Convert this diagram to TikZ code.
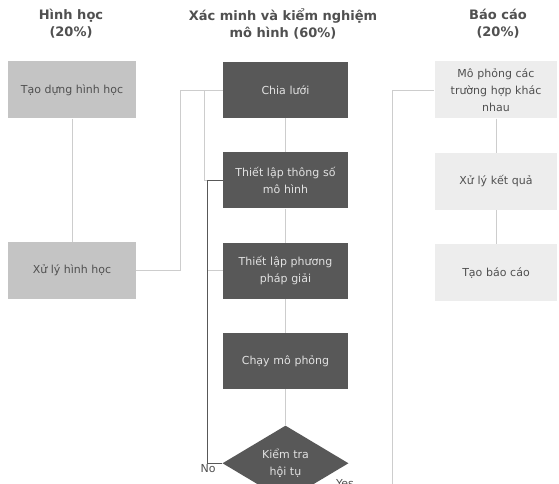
\documentclass[tikz,border=0pt]{standalone}
\usepackage{fontspec}
\setmainfont{DejaVu Sans}
\definecolor{geo_fill}{RGB}{196, 196, 196}
\definecolor{mid_fill}{RGB}{88, 88, 88}
\definecolor{rep_fill}{RGB}{237, 237, 237}
\definecolor{txt_dark}{RGB}{80, 80, 80}
\definecolor{txt_light}{RGB}{225, 225, 225}
\definecolor{line_light}{RGB}{205, 205, 205}
\usetikzlibrary{positioning, shapes.geometric}

\begin{document}
\begin{tikzpicture}[x=1pt, y=-1pt,
        node distance=34pt,
        head/.style={font=\fontsize{13}{17}\selectfont\bfseries, text=txt_dark, align=center},
        geobox/.style={fill=geo_fill, text=txt_dark, minimum width=128pt,
                    minimum height=57pt, font=\fontsize{11}{17}\selectfont, align=center},
        midbox/.style={fill=mid_fill, text=txt_light, minimum width=125pt,
                    minimum height=56pt, text width=118pt,
                    font=\fontsize{11}{17}\selectfont, align=center},
        repbox/.style={fill=rep_fill, text=txt_dark, minimum width=122pt,
                    minimum height=57pt, text width=116pt,
                    font=\fontsize{11}{17}\selectfont, align=center},
        dec/.style={fill=mid_fill, text=txt_light, diamond, inner sep=0pt,
                    minimum width=126pt, minimum height=58pt,
                    font=\fontsize{11}{17}\selectfont, align=center},
        link/.style={line_light, line width=0.8pt},
        back/.style={mid_fill, line width=0.8pt},
        lbl/.style={text=txt_dark, font=\fontsize{11}{13}\selectfont},
      ]
        \clip (0,0) rectangle (559,484);
        \fill[white] (0,0) rectangle (559,484);
        % column headings
        \node[head] (hgeo) at (71,24)  {Hình học\\(20\%)};
        \node[head] (hmid) at (283,24) {Xác minh và kiểm nghiệm\\mô hình (60\%)};
        \node[head] (hrep) at (498,24) {Báo cáo\\(20\%)};
        % geometry
        \node[geobox] (taodung) at (72,90) {Tạo dựng hình học};
        \node[geobox, below=123pt of taodung] (xulyhh) {Xử lý hình học};
        % model
        \node[midbox] (chialuoi) at (285.5,90) {Chia lưới};
        \node[midbox, below=of chialuoi] (thongso) {Thiết lập thông số\\mô hình};
        \node[midbox, below=of thongso] (giai) {Thiết lập phương\\pháp giải};
        \node[midbox, below=of giai] (chay) {Chạy mô phỏng};
        \node[dec, below=36pt of chay] (kiemtra) {Kiểm tra\\hội tụ};
        % report
        \node[repbox] (mophong) at (496,90) {Mô phỏng các\\trường hợp khác\\nhau};
        \node[repbox, below=of mophong] (ketqua) {Xử lý kết quả};
        \node[repbox, below=of ketqua] (baocao) {Tạo báo cáo};
        \coordinate (yesturn) at (392,520);
        \node[lbl, anchor=north] (yes) at (345,476) {Yes};
        \draw[link] (taodung) -- (xulyhh);
        \draw[link] (xulyhh.east) -- ++(44,0) |- (chialuoi.west);
        \draw[link] (chialuoi) -- (thongso);
        \draw[link] (thongso) -- (giai);
        \draw[link] (giai) -- (chay);
        \draw[link] (chay) -- (kiemtra);
        \draw[link] (chialuoi.west) -- ++(-18,0) |- (thongso.west);
        \draw[link] (giai.west) -- ++(-16,0);
        \draw[back] (kiemtra.west) -- ++(-15,0)
          node[lbl, below left=-3pt and -12pt]{No} |- (thongso.west);
        \draw[link] (kiemtra.south) |- (yesturn) |- (mophong.west);
        \draw[link] (mophong) -- (ketqua);
        \draw[link] (ketqua) -- (baocao);
      \end{tikzpicture}
\end{document}
